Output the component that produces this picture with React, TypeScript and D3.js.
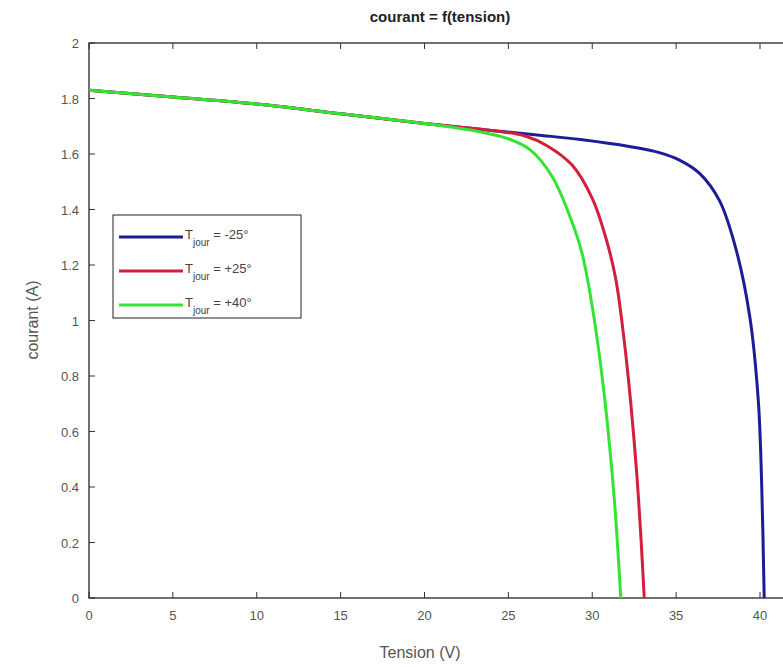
import React, { useEffect, useRef } from 'react';
import * as d3 from 'd3';

// tension (V) / courant (A)
const voltsBlue = [0, 5, 10, 15, 20, 24, 27, 29.3, 32.2, 34, 35.2, 36.4, 37.6, 38.6, 39.4, 39.9, 40.1, 40.25];
const ampsBlue = [1.83, 1.805, 1.78, 1.745, 1.71, 1.685, 1.667, 1.652, 1.627, 1.605, 1.578, 1.53, 1.43, 1.25, 1.01, 0.71, 0.41, 0];

const voltsRed = [0, 5, 10, 15, 20, 24, 26, 27.3, 28.8, 30, 30.8, 31.4, 31.9, 32.3, 32.65, 32.9, 33.1];
const ampsRed = [1.83, 1.805, 1.78, 1.745, 1.71, 1.685, 1.665, 1.63, 1.56, 1.44, 1.3, 1.15, 0.93, 0.7, 0.45, 0.22, 0];

const voltsGreen = [0, 5, 10, 15, 20, 23.3, 25, 26.3, 27.6, 28.7, 29.4, 30.0, 30.5, 30.95, 31.35, 31.7];
const ampsGreen = [1.83, 1.805, 1.78, 1.745, 1.71, 1.68, 1.655, 1.615, 1.52, 1.37, 1.24, 1.05, 0.84, 0.6, 0.33, 0];

const legendLabels = ['= -25°', '= +25°', '= +40°'];
const xTicks = [0, 5, 10, 15, 20, 25, 30, 35, 40];
const yTicks = [0, 0.2, 0.4, 0.6, 0.8, 1, 1.2, 1.4, 1.6, 1.8, 2];

function App() {
  const ref = useRef<SVGSVGElement>(null);

  useEffect(() => {
    const W = 783, H = 667;
    const left = 89, top = 43, right = 800, bottom = 598;

    const svg = d3.select(ref.current).attr('width', W).attr('height', H);
    svg.selectAll('*').remove();

    const x = d3.scaleLinear().domain([0, 40]).range([left, 760]);
    const y = d3.scaleLinear().domain([0, 2]).range([bottom, top]);

    svg.append('rect').attr('width', W).attr('height', H).attr('fill', '#fff');

    const font = 'Liberation Sans, Arial, sans-serif';

    // frame
    svg.append('rect')
      .attr('x', left).attr('y', top)
      .attr('width', right - left).attr('height', bottom - top)
      .attr('fill', 'none').attr('stroke', '#111').attr('stroke-width', 1.2);

    // ticks, pointing inwards (bottom & top, left)
    xTicks.forEach(t => {
      svg.append('line').attr('x1', x(t)).attr('x2', x(t)).attr('y1', bottom).attr('y2', bottom - 6).attr('stroke', '#333');
      svg.append('line').attr('x1', x(t)).attr('x2', x(t)).attr('y1', top).attr('y2', top + 6).attr('stroke', '#333');
      svg.append('text')
        .attr('x', x(t)).attr('y', bottom + 22)
        .attr('text-anchor', 'middle')
        .attr('font-family', font).attr('font-size', 13).attr('fill', '#555')
        .text(t);
    });
    yTicks.forEach(t => {
      svg.append('line').attr('x1', left).attr('x2', left + 6).attr('y1', y(t)).attr('y2', y(t)).attr('stroke', '#333');
      svg.append('text')
        .attr('x', left - 10).attr('y', y(t) + 5)
        .attr('text-anchor', 'end')
        .attr('font-family', font).attr('font-size', 13).attr('fill', '#555')
        .text(t);
    });

    const series = [
      { volts: voltsBlue, amps: ampsBlue, color: '#1c1c96' },
      { volts: voltsRed, amps: ampsRed, color: '#d11f3c' },
      { volts: voltsGreen, amps: ampsGreen, color: '#33e433' },
    ];

    // centripetal catmull-rom copes with the near-vertical ends
    const line = d3.line<[number, number]>()
      .x(d => x(d[0]))
      .y(d => y(d[1]))
      .curve(d3.curveCatmullRom.alpha(0.5));

    series.forEach(s => {
      const pts = s.volts.map((v, i) => [v, s.amps[i]] as [number, number]);
      svg.append('path')
        .attr('d', line(pts))
        .attr('fill', 'none')
        .attr('stroke', s.color)
        .attr('stroke-width', 3);
    });

    // legend
    const lg = svg.append('g').attr('transform', 'translate(113,215)');
    lg.append('rect').attr('width', 188).attr('height', 103)
      .attr('fill', '#fff').attr('stroke', '#222').attr('stroke-width', 1);
    series.forEach((s, i) => {
      const ly = 22 + i * 34;
      lg.append('line').attr('x1', 6).attr('x2', 70).attr('y1', ly).attr('y2', ly)
        .attr('stroke', s.color).attr('stroke-width', 3);
      const t = lg.append('text').attr('x', 72).attr('y', ly + 2)
        .attr('font-family', font).attr('font-size', 13).attr('fill', '#444');
      t.append('tspan').text('T');
      t.append('tspan').attr('dy', 7).attr('font-size', 10).text('jour');
      t.append('tspan').attr('dy', -7).text(' ' + legendLabels[i]);
    });

    // title and axis labels
    svg.append('text')
      .attr('x', 440).attr('y', 22).attr('text-anchor', 'middle')
      .attr('font-family', font).attr('font-size', 15).attr('font-weight', 'bold').attr('fill', '#222')
      .text('courant = f(tension)');
    svg.append('text')
      .attr('x', 420).attr('y', 658).attr('text-anchor', 'middle')
      .attr('font-family', font).attr('font-size', 16).attr('fill', '#555')
      .text('Tension (V)');
    svg.append('text')
      .attr('transform', 'translate(38,320) rotate(-90)').attr('text-anchor', 'middle')
      .attr('font-family', font).attr('font-size', 16).attr('fill', '#555')
      .text('courant (A)');
  }, []);

  return (
    <div style={{ position: 'absolute', left: 0, top: 0 }}>
      <svg ref={ref}></svg>
    </div>
  );
}

export default App;
